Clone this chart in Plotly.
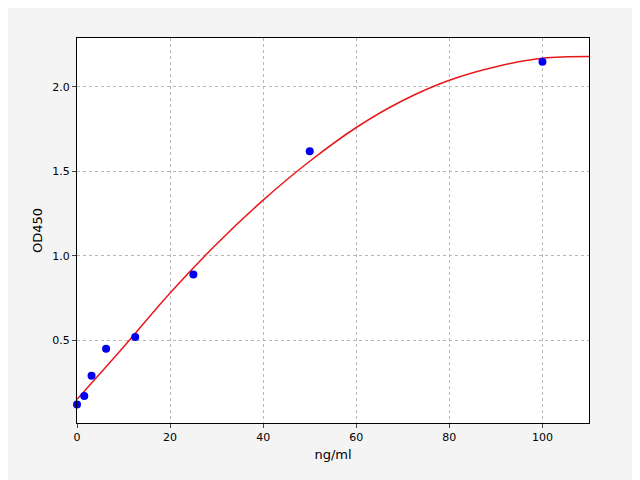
import plotly.graph_objects as go

# standard points
conc = [0, 1.56, 3.125, 6.25, 12.5, 25, 50, 100]
od = [0.12, 0.17, 0.29, 0.45, 0.52, 0.89, 1.62, 2.15]

# fitted curve
fit_x = [0, 10, 20, 30, 40, 50, 60, 70, 80, 90, 100, 110]
fit_y = [0.15, 0.46, 0.78, 1.07, 1.33, 1.56, 1.76, 1.92, 2.04, 2.12, 2.17, 2.18]

fig = go.Figure()
fig.add_trace(go.Scatter(x=fit_x, y=fit_y, mode='lines',
                         line=dict(color='#e8181a', width=1.5, shape='spline', smoothing=1.0),
                         showlegend=False))
fig.add_trace(go.Scatter(x=conc, y=od, mode='markers', marker=dict(color='#0000ee', size=8),
                         showlegend=False, cliponaxis=False))

ax = dict(showgrid=True, gridcolor='#b8b8b8', griddash='3px,3px', gridwidth=0.8, showline=True, linecolor='black',
          mirror=True, ticks='outside', ticklen=4, zeroline=False, tickfont=dict(size=11, color='black'))
fig.update_layout(
    width=640, height=480, paper_bgcolor='#f4f4f4', plot_bgcolor='white',
    margin=dict(l=69, r=59, t=30, b=65),
    font=dict(family='DejaVu Sans', size=11, color='black'),
    xaxis=dict(ax, range=[0, 110], dtick=20, title=dict(text='ng/ml', standoff=6)),
    yaxis=dict(ax, range=[0.01, 2.29], tickvals=[0.5, 1.0, 1.5, 2.0], ticktext=['0.5', '1.0', '1.5', '2.0'],
               title=dict(text='OD450', standoff=6)),
)
fig.write_html("out.html")
